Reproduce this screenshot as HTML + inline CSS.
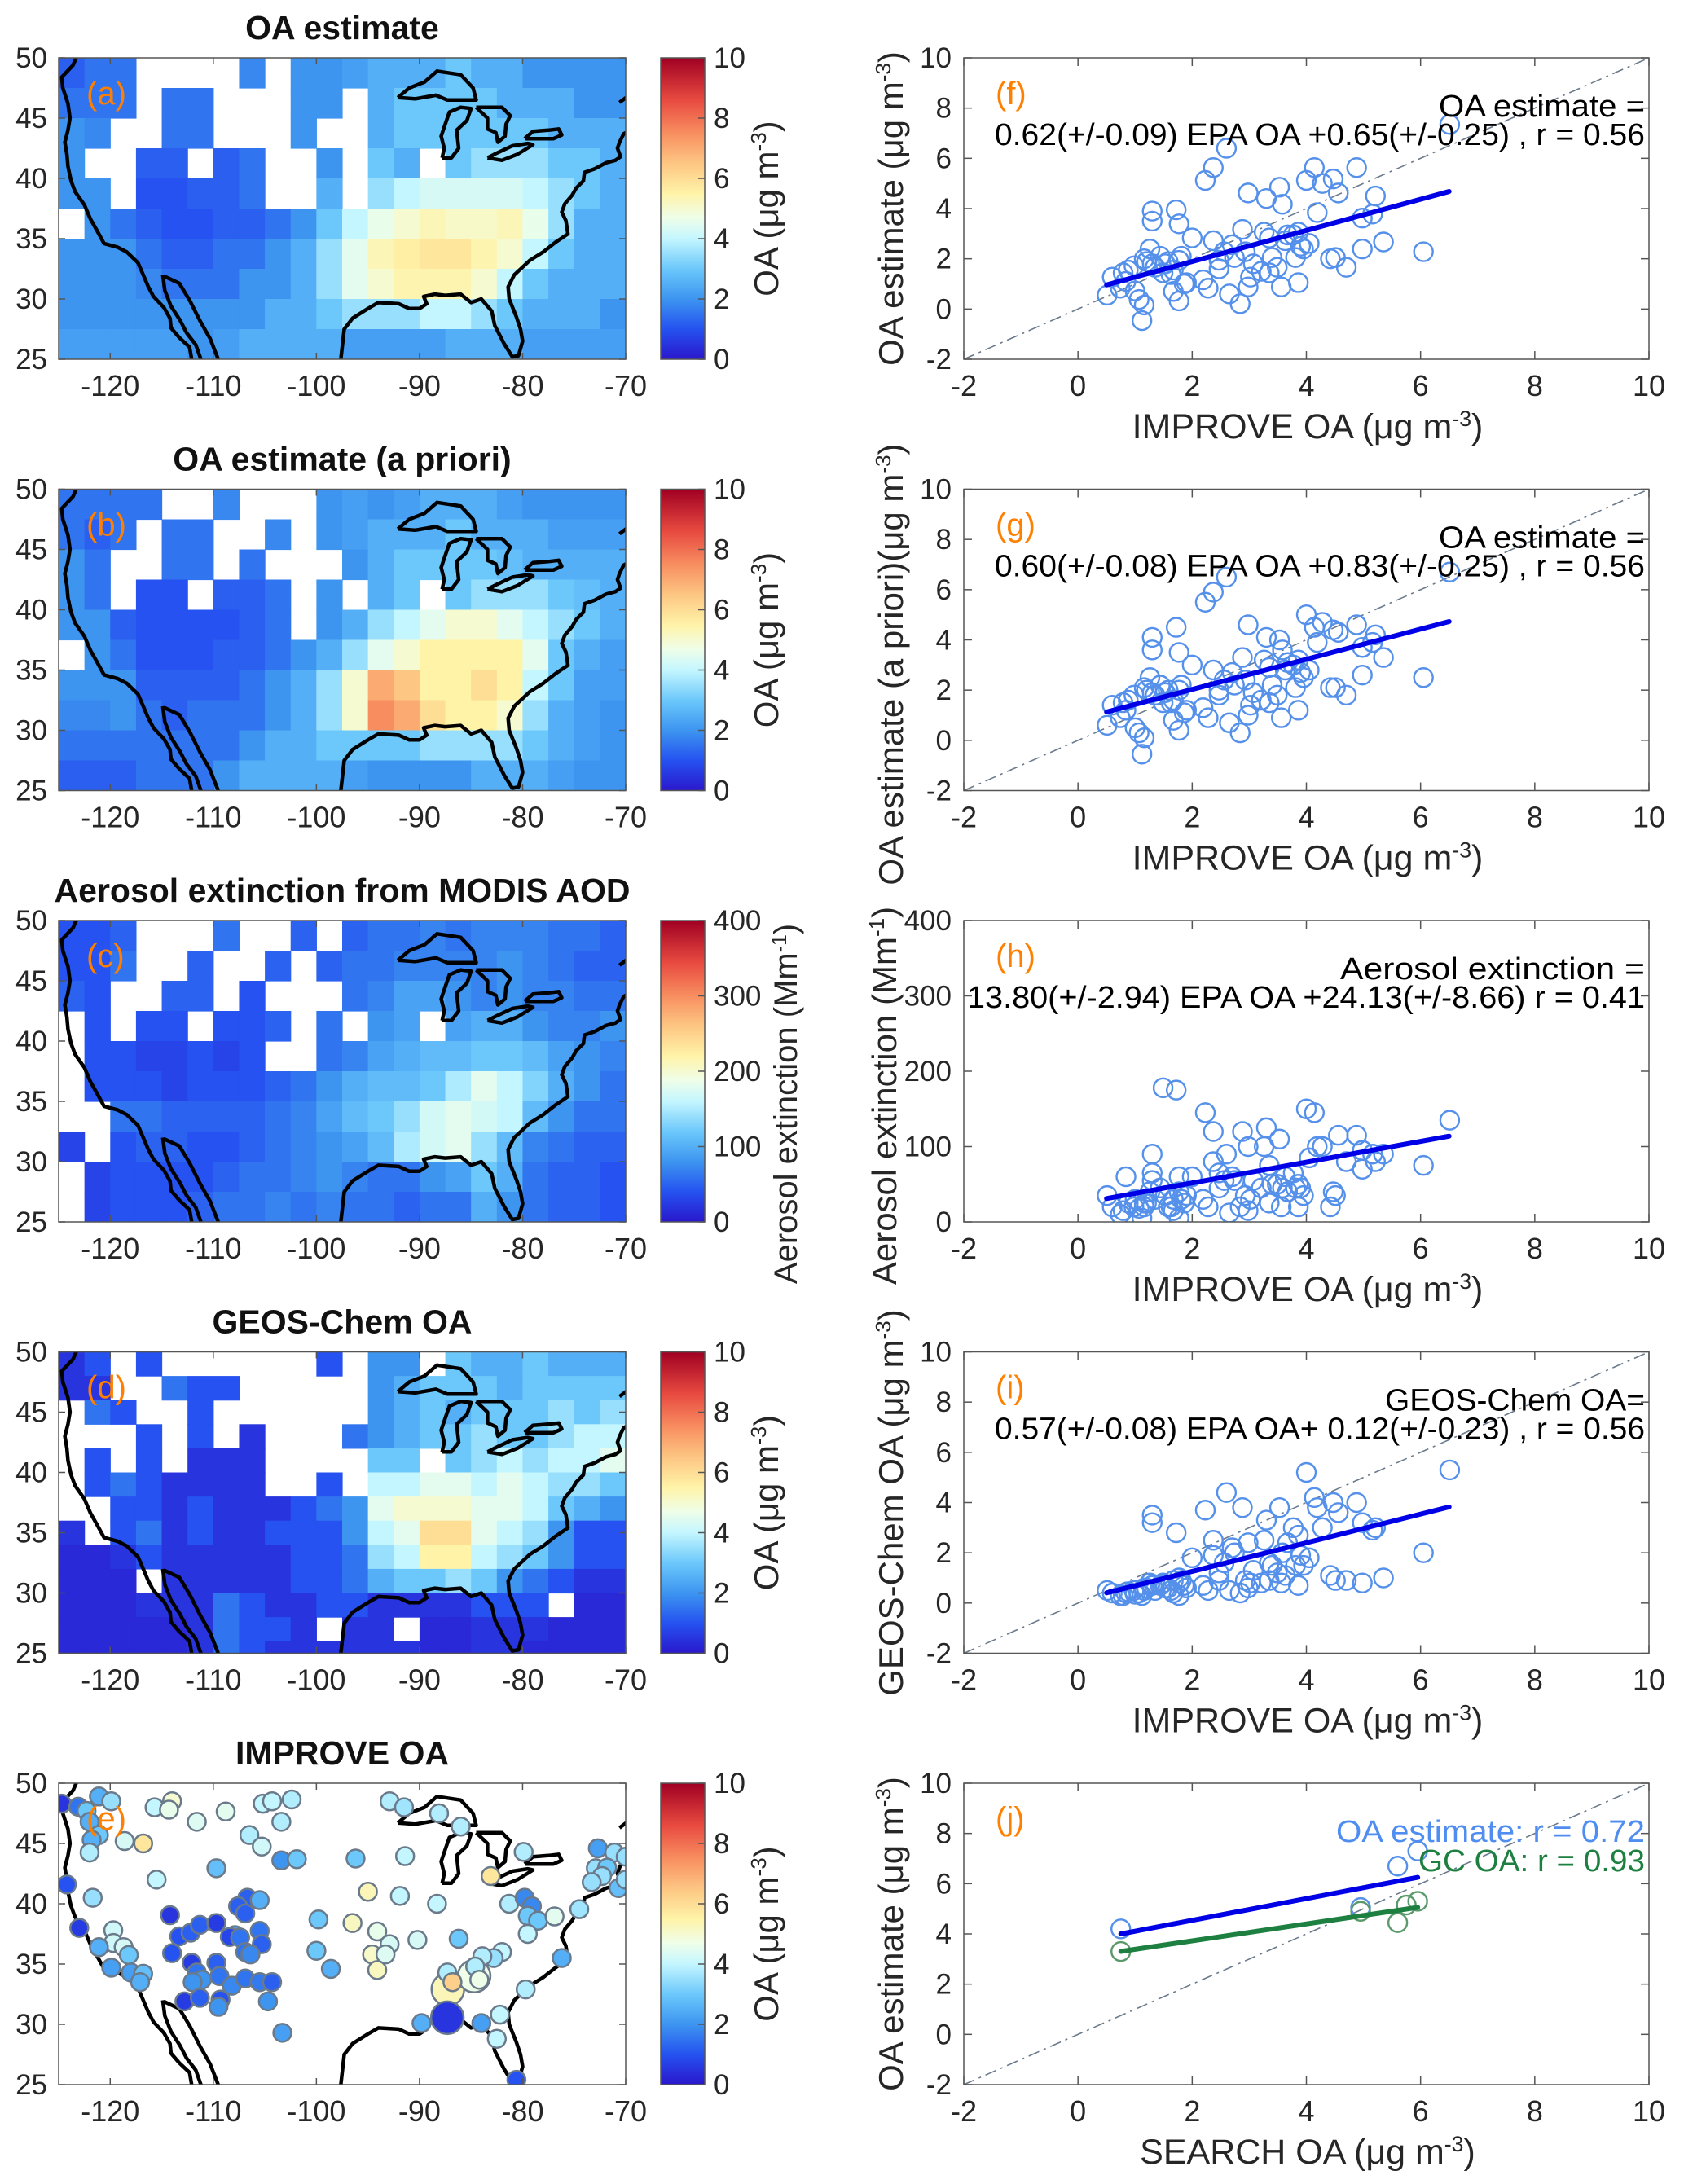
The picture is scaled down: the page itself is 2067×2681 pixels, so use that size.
<!DOCTYPE html>
<html><head><meta charset="utf-8"><title>OA maps and scatter</title>
<style>
html,body{margin:0;padding:0;background:#fff;}
svg{display:block;font-family:"Liberation Sans",Arial,sans-serif;}
</style></head>
<body>
<svg id="fig" xmlns="http://www.w3.org/2000/svg" width="2067" height="2681" viewBox="0 0 2067 2681">
<defs>
<linearGradient id="cmap" x1="0" y1="1" x2="0" y2="0">
<stop offset="0" stop-color="#2a18cc"/><stop offset="0.1" stop-color="#2552f0"/><stop offset="0.2" stop-color="#3d95f0"/>
<stop offset="0.3" stop-color="#6cc8fb"/><stop offset="0.4" stop-color="#c4f6ff"/><stop offset="0.47" stop-color="#effee8"/>
<stop offset="0.55" stop-color="#fff3a8"/><stop offset="0.65" stop-color="#fdc682"/><stop offset="0.75" stop-color="#f88e60"/>
<stop offset="0.86" stop-color="#e84a40"/><stop offset="1" stop-color="#a00022"/>
</linearGradient>
</defs>
</svg>
<script>
// ---------------- DATA ----------------
const mapTitles = ["OA estimate","OA estimate (a priori)","Aerosol extinction from MODIS AOD","GEOS-Chem OA","IMPROVE OA"];
const mapLetters = ["(a)","(b)","(c)","(d)","(e)"];
const lonTicks = [-120,-110,-100,-90,-80,-70];
const latTicks = [25,30,35,40,45,50];
const cbTicksOA = [0,2,4,6,8,10];
const cbTicksExt = [0,100,200,300,400];
const gridA = [
[1.2,1.5,1.5,-1,-1,-1,-1,1.8,-1,2,2,2.2,2.5,2.5,2.5,3,2.5,2.5,2,2,2,2],
[1.5,1.5,1.5,-1,1.5,1.5,-1,-1,-1,2,2,-1,2.5,3,3,3,3,2.5,2.5,2.5,2,2],
[2,1.8,-1,-1,1.5,1.5,-1,-1,-1,2,-1,-1,2.5,3,3,3,3,3,3,2.5,2.5,2.5],
[2,-1,-1,1.2,1.2,-1,1.2,1.5,-1,-1,2,-1,3,2.5,-1,3,3.5,3.5,3.5,3,3,2.5],
[2,2,-1,1,1,1.2,1.2,1.5,-1,-1,2.5,-1,3.5,4,4.3,4.3,4.3,4.3,4,3.5,3,2.5],
[-1,2,1.5,1.2,1,1,1.2,1.2,1.5,2,3,4,4.6,5,5.3,5.1,5.1,5.3,4.6,3.5,2.5,2.5],
[2,2,2,1.5,1.2,1.2,1.5,1.5,2,2.5,3.5,4.5,5.3,5.6,5.8,5.8,5.4,5,4,3,2.5,2.5],
[2,2,2,1.8,1.5,1.5,1.5,2,2,2.5,3.5,4.5,5,5.4,5.4,5.4,5,4,3,2.5,2.5,2.5],
[2,2,2,2,2,2,2,2,2.5,2.5,3,3.5,3.5,3.5,4,4,3.5,3,2.5,2.5,2.5,2],
[2.2,2.2,2.2,2.2,2.2,2,2.2,2.5,2.5,2.5,2.5,2.2,2.2,2.2,2.2,2.5,2.5,2.5,2.2,2.2,2.2,2.2]];
const gridB = [
[1.5,1.5,1.5,1.5,-1,-1,1.8,-1,-1,-1,2,2.2,2,2.2,2.5,2.5,2.5,2.2,2,2,2,2],
[1.5,1.2,1.5,-1,1.5,1.5,-1,-1,1.8,-1,2,2.2,2.5,2.5,2.5,3,2.5,2.5,2.5,2.2,2.2,2.2],
[2,1.5,-1,-1,1.5,1.5,-1,1.5,-1,-1,-1,2,2.5,3,3,3,3,2.8,2.5,2.5,2.5,2.5],
[2,1.5,-1,1,1,-1,1.2,1.2,1.5,-1,2,-1,2.5,3,-1,3,3.5,3.5,3.5,3,2.8,2.5],
[2,2,1.2,1,1,1,1,1.2,1.5,-1,2,2.5,3.5,4,4.5,5,5,4.5,4,3.5,3,2.5],
[-1,2,1.5,1,1,1,1.2,1.2,1.5,2,2.5,3.5,4.5,5,5.5,5.5,5.5,5.5,4.5,3,2.5,2.2],
[2,2,2,1.2,1.2,1.2,1.2,1.5,2,2.5,3.5,5,7,6.5,5.5,5.5,6,5.5,4,3,2.2,2.2],
[1.8,1.8,2,1.5,1.2,1.5,1.5,1.5,2,2.5,3.5,5,7.5,7,6,5.5,5.5,5,3.5,2.5,2.2,2],
[1.5,1.5,1.5,1.5,1.5,1.5,1.5,2,2.5,2.5,3,3,3,3,3.5,3.5,3.5,3.5,3,2.5,2.2,2],
[1.2,1.2,1.2,1.5,1.5,1.5,2,2.5,2.5,2.5,2.5,2.2,2,2,2,2,2.5,2.5,2.5,2.2,2,2]];
const gridC = [
[40,40,50,-1,-1,-1,60,-1,-1,50,-1,50,60,60,70,60,70,70,70,60,60,50],
[40,40,60,-1,-1,50,-1,-1,50,-1,50,60,60,70,70,70,70,80,70,60,50,50],
[50,40,-1,-1,50,50,-1,40,-1,-1,-1,60,70,90,90,80,70,80,70,70,60,60],
[-1,40,-1,40,40,-1,40,40,50,-1,60,-1,80,90,-1,90,100,100,80,70,70,80],
[-1,40,40,30,30,40,30,40,-1,-1,60,70,90,100,110,110,120,120,110,90,80,70],
[-1,40,40,40,30,40,40,40,50,60,80,100,110,110,120,150,180,160,130,100,80,60],
[-1,-1,60,60,50,50,50,50,60,70,90,110,120,140,170,180,170,160,110,80,60,60],
[30,-1,40,50,50,40,40,50,60,70,80,90,110,150,170,180,140,110,70,60,50,50],
[-1,30,40,40,40,40,50,60,60,70,80,70,60,60,80,90,120,100,60,50,50,40],
[-1,30,40,40,40,50,60,60,70,60,70,60,60,50,60,60,100,80,60,50,50,40]];
const gridD = [
[0.5,1,-1,1,-1,-1,-1,-1,-1,-1,1,-1,2,2,-1,3,2.5,2.5,3,2.5,2.5,2.5],
[0.5,0.5,-1,-1,1.5,1,1,-1,-1,-1,-1,-1,2,2.5,3,3,3,2.5,3,3,3,3],
[-1,1.5,1,-1,-1,1,-1,-1,-1,-1,-1,-1,2,2.5,3,2.5,3,3,3,3.5,3,3.5],
[-1,-1,-1,1,-1,1,-1,0.5,-1,-1,-1,1.5,2,2.5,3,3,3.5,3,3,3.5,4,4],
[-1,1,-1,1,-1,0.5,0.5,0.5,-1,-1,-1,-1,3,3,-1,3,3.5,4,3.5,4,4,4.5],
[-1,1,1.5,1,0.5,0.5,0.5,0.5,-1,-1,1,-1,4,4,4.5,4.5,4,4.5,4,3.5,3.5,3],
[-1,-1,1,1,0.5,1,0.5,0.5,0.5,1,1.5,2,4.5,5,5,5,4.5,4.5,4,3,2.5,2],
[0.5,-1,1,1.5,0.5,1,0.5,0.5,1,1,1,2,4,4.5,6,6,4.5,4,3.5,2,1,1],
[0.3,0.3,0.5,1,0.5,0.5,0.5,0.5,0.5,1,1,1.5,3.5,4,5.5,5.5,4,3.5,3,2,1,1],
[0.3,0.3,0.3,-1,0.5,0.5,0.5,0.5,0.5,1,1,1.5,2.5,3,3,3.5,3,2,1.5,1,0.5,0.5],
[0.3,0.3,0.3,0.5,0.5,0.5,1.5,1,0.5,0.5,1,1,0.5,0.5,0.5,0.5,1,1,1,-1,0.3,0.3],
[0.3,0.3,0.3,0.3,0.3,0.5,1.5,1,1,0.5,-1,0.5,0.5,-1,0.3,0.3,0.5,0.5,0.5,0.3,0.3,0.3],
[0.3,0.3,0.3,0.3,0.3,0.5,1.5,1,0.5,0.5,0.5,0.5,0.5,0.5,0.3,0.3,0.5,0.5,0.3,0.3,0.3,0.3]];
const siteLon = [-124.7,-123.1,-121.1,-119.9,-122.3,-122,-121.1,-121.8,-122,-118.6,-116.8,-115.7,-114,-114.3,-111.6,-108.8,-105.2,-104.3,-102.4,-103.4,-106.5,-105.3,-103.4,-101.9,-109.7,-115.5,-124.2,-121.7,-106.7,-105.5,-107.6,-106.9,-114.2,-123,-119.7,-119.7,-118.7,-118.2,-121.1,-119.9,-118,-116.8,-117.1,-113.3,-112.2,-111.3,-109.7,-107.9,-108.4,-107.4,-105.5,-105.3,-106.9,-106.4,-114,-112.1,-109.7,-111.6,-111.1,-112,-109.4,-108.2,-106.9,-105.5,-104.3,-112.8,-111.3,-109.3,-109.5,-104.7,-103.3,-99.8,-100,-98.6,-96.2,-92.9,-91.5,-91.4,-95,-96.5,-94.1,-91.9,-92.9,-94.6,-93.3,-94.1,-90.2,-88.3,-86.2,-88.1,-86,-83.1,-79.9,-81.3,-79.8,-79.1,-79.5,-78.5,-79.5,-76.9,-74.5,-76.2,-79.7,-82,-82.8,-83.9,-84.6,-87.3,-87.25,-84.7,-87.3,-86.8,-84.2,-89.8,-84,-82.2,-82.5,-80.6,-72.7,-71.1,-70,-72.9,-71.8,-72.3,-73.3,-70.7,-70];
const siteLat = [48.3,48.05,48.9,48.5,47.7,46.8,45.7,45.3,44.25,45.2,45,48,48.5,47.8,46.8,47.65,48.3,48.5,48.65,46.8,45.7,44.75,43.6,43.7,42.95,42,41.6,40.5,40.5,40.3,39.8,39.2,39.05,38,37.8,36.75,36.4,35.75,36.4,34.7,34.3,34.2,33.5,37.3,37.6,38.25,38.4,37.4,37.25,37.2,37.75,36.65,36,35.8,35.9,35.1,35.1,34.3,33.7,33.5,34,33.2,33.8,33.5,33.5,31.9,32.2,32.05,31.45,31.9,29.3,38.7,36.1,34.6,43.75,48.5,48,43.95,41,38.4,37.7,40.65,36.65,35.8,35.8,34.5,37,40,37.1,47.5,46.4,42.3,44.3,40,40.5,39.8,39,38.6,37.5,38.95,39.55,35.5,32.9,36,35.5,35.65,34.8,34.3,32.9,34,30.55,33.5,33.7,30.1,30.1,30.8,28.8,25.4,44.6,44.25,43.9,42.95,43,42.3,41.8,41.3,42];
const siteOA = [0.5,1.5,2.5,3.5,3,2.5,3,2.5,3.8,4.3,5.8,4,5,4.6,4.4,4.5,4,4,3.8,3.8,3.8,4.2,2,3,2.8,4,1,3.5,1.2,2.5,1.2,1.2,0.5,0.6,4.2,4.2,4.3,3,2.5,2.2,2.2,2.8,2.5,1,1.2,1.2,0.6,2.2,0.8,1.5,1.5,1.2,1.5,1.8,1,0.6,1.2,1.5,2,2,1.5,1.8,1.5,1.6,1.2,0.6,1.2,1,2,2,2.2,3,3,2.5,3,3.8,3.6,4,5.3,5.2,4.6,4,4.3,5.1,4.4,5.2,4.3,4,3,3.8,3.8,5.8,3.8,3.8,1.8,1.8,3,3,4,4.5,3.6,2.5,3.8,4,3.5,3.8,3.8,3.8,5.3,4.7,0.5,6.3,4.7,2.5,2.2,4,4,1,2.2,3.5,3.5,3.5,3,3.5,3.5,2.8,3.5];
const bigLon = [-87.25,-84.7,-87.3];
const bigLat = [32.9,34,30.55];
const improveX = [0.51,0.6,0.79,0.88,0.74,1.0,1.07,1.16,1.12,1.2,1.26,1.3,1.3,1.35,1.44,1.53,1.63,1.67,1.72,1.77,1.77,1.81,1.9,2.0,2.19,2.23,2.28,2.37,2.37,2.47,2.56,2.6,2.65,2.74,2.84,2.88,2.93,2.98,2.98,3.07,3.21,3.3,3.35,3.35,3.4,3.53,3.58,3.56,3.63,3.77,3.81,3.86,3.9,4.0,4.05,4.14,4.19,4.28,4.42,4.47,4.51,4.56,4.7,4.88,4.98,4.98,5.16,5.21,5.35,6.05,6.51,0.84,0.98,1.16,1.3,1.49,1.58,1.67,1.77,1.86,2.47,2.7,3.02,3.26,3.49,3.67,3.86,3.95];
const estY = [0.55,1.27,1.44,1.55,0.83,0.72,0.38,0.16,-0.46,1.89,2.39,3.9,3.5,1.66,2.1,1.8,1.37,0.7,3.95,3.39,0.32,2.1,1.05,2.83,1.16,5.12,0.83,5.63,2.72,1.6,2.28,6.4,0.6,2.05,0.21,3.17,2.28,4.62,0.88,1.8,1.5,4.4,2.83,1.44,2.05,4.85,4.17,0.88,2.72,2.95,2.05,1.05,2.5,5.12,2.61,5.63,3.84,5.0,2.0,5.18,2.05,4.62,1.66,5.63,2.39,3.62,3.78,4.5,2.67,2.28,7.35,1.1,1.72,2.0,1.8,1.44,1.89,1.55,1.94,1.0,1.94,2.56,1.27,3.06,1.66,2.95,3.06,2.39];
const prioriY = [0.6,1.4,1.5,1.6,0.9,0.5,0.3,0.1,-0.55,2.0,2.5,4.1,3.6,1.8,2.2,1.9,1.5,0.8,4.5,3.5,0.4,2.2,1.2,3.0,1.3,5.5,0.9,5.9,2.8,1.8,2.4,6.5,0.7,2.2,0.3,3.3,2.4,4.6,1.0,1.9,1.6,4.1,2.9,1.5,2.2,4.0,3.6,0.9,2.8,3.0,2.1,1.2,2.7,5.0,2.8,4.5,3.9,4.7,2.1,4.4,2.1,4.3,1.8,4.6,2.6,3.7,3.9,4.2,3.3,2.5,6.7,1.2,1.8,2.1,1.9,1.5,2.0,1.6,2.0,1.1,2.0,2.7,1.4,3.2,1.8,3.1,3.2,2.5];
const extY = [35,20,15,25,10,30,18,20,5,25,40,90,65,30,45,35,20,15,175,60,5,30,35,60,30,145,20,120,80,45,55,90,12,55,20,120,35,100,15,55,45,125,75,25,50,110,45,20,60,65,45,20,45,150,85,145,100,100,20,40,35,115,80,115,70,95,90,80,90,75,135,60,20,25,55,178,20,30,40,25,65,60,30,100,50,40,50,35];
const gcY = [0.5,0.4,0.3,0.45,0.3,0.35,0.4,0.5,0.3,0.6,0.8,3.5,3.2,0.5,0.7,0.6,0.5,0.4,2.8,0.8,0.3,0.9,0.6,1.8,0.7,3.7,0.5,2.5,1.9,0.9,1.6,4.4,0.5,2.0,0.4,3.8,0.9,2.4,0.6,1.3,0.8,3.3,1.6,0.9,1.5,3.8,2.0,0.8,1.1,3.0,1.5,0.7,1.9,5.2,1.8,4.2,3.8,3.0,1.1,4.0,0.9,3.6,0.9,4.0,0.8,3.2,2.9,3.0,1.0,2.0,5.3,0.4,0.5,0.6,0.7,0.8,0.6,0.9,1.0,0.7,1.2,2.2,0.8,2.5,1.2,2.4,2.7,1.5];
const searchX = [0.75,4.95,5.6,5.95];
const searchEstY = [4.2,5.05,6.7,7.3];
const searchGcX = [0.75,4.95,5.6,5.75,5.95];
const searchGcY = [3.3,4.9,4.45,5.15,5.3];
const fitSlope = [0.62,0.60,13.80,0.57];
const fitIntercept = [0.65,0.83,24.13,0.12];
const fitRange = [0.5,6.5];
const jSlope = [0.433,0.337];
const jIntercept = [3.675,3.05];
const jRange = [0.75,5.95];
const sxTicks = [-2,0,2,4,6,8,10];
const syTicksOA = [-2,0,2,4,6,8,10];
const syTicksExt = [0,100,200,300,400];
const coastWest = [[-123.2,50.2],[-123.6,49.4],[-124.7,48.4],[-124.6,47.5],[-124.1,46.2],[-123.9,45],[-124.1,44],[-124.4,43],[-124.2,42],[-124.1,41],[-123.8,39.8],[-123.4,38.9],[-122.5,37.8],[-121.9,36.6],[-121.3,35.7],[-120.6,34.6],[-119.3,34.3],[-118.4,33.9],[-117.3,33],[-116.8,32],[-116.3,31],[-115.8,30.2],[-114.8,29.3],[-114.2,28.4],[-114.1,27.6],[-113.3,26.8],[-112.3,26],[-112,24.5]];
const coastBaja = [[-114.9,32],[-114.7,30.7],[-114.1,29.4],[-113.2,28.2],[-112.6,27.2],[-111.7,26.2],[-111,24.5]];
const coastMex = [[-114.8,31.9],[-113.3,31.3],[-112.3,29.9],[-111.3,28.2],[-110.3,26.7],[-109.3,24.5]];
const coastGulf = [[-97.7,24.5],[-97.5,26],[-97.3,27.5],[-96.5,28.4],[-95,29.2],[-94,29.7],[-92,29.6],[-91,29.2],[-90,29.2],[-89.3,29.6],[-89.6,30.2],[-88.5,30.4],[-87.5,30.3],[-86,30.4],[-85,29.7],[-84,30],[-83,29],[-82.7,27.8],[-81.8,26.3],[-81,25.2],[-80.4,25.3],[-80,26.5],[-80.2,27.5],[-80.6,28.5],[-81.3,30],[-81.4,31],[-80.8,32],[-79.3,33.2],[-78,33.9],[-76.8,34.7],[-75.6,35.4],[-75.8,36.5],[-76.2,37.2],[-75.9,37.9],[-75.2,38.6],[-74.8,39.2],[-74.1,39.8],[-74,40.5],[-73,40.8],[-71.9,41.3],[-71,41.5],[-70.5,41.8],[-70.8,42.5],[-70.6,43],[-70.2,43.7],[-69.5,44]];
const coastNS = [[-70.6,46.3],[-69.5,47]];
const lakeSuperior = [[-92.1,46.7],[-90.4,46.6],[-88.4,46.9],[-87.3,46.5],[-85,46.5],[-84.5,46.5],[-84.8,47.5],[-86,48.6],[-88.3,48.9],[-89.5,48],[-91,47.5],[-92.1,46.7]];
const lakeMichigan = [[-87.8,41.7],[-87.6,42.5],[-87.9,43.5],[-87.5,44.5],[-87.1,45.5],[-86,45.9],[-85,45.8],[-85.4,44.8],[-86.4,44],[-86.2,42.5],[-86.9,41.7],[-87.8,41.7]];
const lakeHuron = [[-84.5,45.9],[-83.5,45.9],[-82,45.9],[-81.2,45.2],[-81.6,44.5],[-81.7,43.5],[-82.4,43],[-82.6,43.8],[-83.4,44.1],[-83.4,45],[-84.5,45.9]];
const lakeErie = [[-83.4,41.7],[-82,41.5],[-80.5,42],[-79,42.8],[-79.5,42.9],[-81,42.7],[-82.5,42.1],[-83.4,41.7]];
const lakeOntario = [[-79.8,43.3],[-78.5,43.3],[-77,43.3],[-76.2,43.6],[-76.5,44.1],[-77.5,44],[-79,43.9],[-79.8,43.3]];

// ---------------- DRAWING ----------------
const NS="http://www.w3.org/2000/svg";
const svg=document.getElementById('fig');
function el(tag,attrs,parent){const e=document.createElementNS(NS,tag);for(const k in attrs)e.setAttribute(k,attrs[k]);(parent||svg).appendChild(e);return e;}
const ROW0=71, ROWH=529.5, PH=370;
const MX0=72, MX1=768, CBX=811, CBW=54;
const SX0=1183, SX1=2024;
const TXT="#262626";
const stops=[[0,[42,24,204]],[0.1,[37,82,240]],[0.2,[61,149,240]],[0.3,[108,200,251]],[0.4,[196,246,255]],[0.47,[239,254,232]],[0.55,[255,243,168]],[0.65,[253,198,130]],[0.75,[248,142,96]],[0.86,[232,74,64]],[1,[160,0,34]]];
function cmap(t){t=Math.max(0,Math.min(1,t));for(let i=1;i<stops.length;i++){if(t<=stops[i][0]){const a=stops[i-1],b=stops[i];const f=(t-a[0])/(b[0]-a[0]);const c=a[1].map((v,j)=>Math.round(v+(b[1][j]-v)*f));return `rgb(${c[0]},${c[1]},${c[2]})`;}}return 'rgb(160,0,34)';}
function lonX(lon){return MX0+(lon+125)/55*(MX1-MX0);}
function latY(lat,top){return top+(50-lat)/25*PH;}
function sx(v){return SX0+(v+2)/12*(SX1-SX0);}
function text(str,x,y,size,opts,parent){const t=el('text',Object.assign({x:x,y:y,'font-size':size,fill:TXT},opts||{}),parent);t.textContent=str;return t;}
function unitLabel(parent,prefix,x,y,size,rotate,unitsuffix){
  const t=el('text',{x:x,y:y,'font-size':size,fill:TXT,'text-anchor':'middle'},parent);
  if(rotate)t.setAttribute('transform',`rotate(-90 ${x} ${y})`);
  const a=el('tspan',{},t);a.textContent=prefix;
  const b=el('tspan',{'baseline-shift':'super','font-size':size*0.62},t);b.textContent=unitsuffix;
  const c=el('tspan',{},t);c.textContent=')';
  return t;
}
function spanText(str,x0,x1,y,size,color,parent){
  return text(str,x0,y,size,{fill:color,textLength:x1-x0,lengthAdjust:'spacingAndGlyphs'},parent);
}
function drawCoast(g,top){
  const lines=[coastWest,coastBaja,coastMex,coastGulf,coastNS,lakeSuperior,lakeMichigan,lakeHuron,lakeErie,lakeOntario];
  lines.forEach(L=>{el('polyline',{points:L.map(p=>lonX(p[0]).toFixed(1)+','+latY(p[1],top).toFixed(1)).join(' '),fill:'none',stroke:'#000','stroke-width':4.5,'stroke-linejoin':'round'},g);});
}

for(let r=0;r<5;r++){
  const top=ROW0+r*ROWH;
  const g=el('g',{});
  
  
  const clip=el('clipPath',{id:'clip'+r},svg.querySelector('defs'));
  el('rect',{x:MX0,y:top,width:MX1-MX0,height:PH},clip);
  const title=text(mapTitles[r],420,top-23,41,{'font-weight':'bold','text-anchor':'middle',fill:'#111'},g);
  
  
  const inner=el('g',{'clip-path':`url(#clip${r})`},g);
  if(r<3){
    const grid=[gridA,gridB,gridC][r];
    const scale=r==2?400:10;
    grid.forEach((row,i)=>row.forEach((v,j)=>{
      if(v<0)return;
      const x0=lonX(-125+j*2.5),x1=lonX(-125+(j+1)*2.5),y0=latY(50-i*2.5,top),y1=latY(50-(i+1)*2.5,top);
      const c=el('rect',{x:x0,y:y0,width:x1-x0+0.6,height:y1-y0+0.6,fill:cmap(v/scale)},inner);
      
      
    }));
  } else if(r==3){
    gridD.forEach((row,i)=>row.forEach((v,j)=>{
      if(v<0)return;
      const x0=lonX(-125+j*2.5),x1=lonX(-125+(j+1)*2.5),y0=latY(50-i*2,top),y1=latY(50-(i+1)*2,top);
      const c=el('rect',{x:x0,y:y0,width:x1-x0+0.6,height:y1-y0+0.6,fill:cmap(v/10)},inner);
      
      
    }));
  }
  drawCoast(inner,top);
  if(r==4){
    const isBig=i=>bigLon.some((lo,k)=>Math.abs(lo-siteLon[i])<0.01&&Math.abs(bigLat[k]-siteLat[i])<0.01);
    [true,false].forEach(pass=>{
      siteLon.forEach((lon,i)=>{
        const big=isBig(i);
        if(big!==pass)return;
        const c=el('circle',{cx:lonX(lon),cy:latY(siteLat[i],top),r:big?20:11,fill:cmap(siteOA[i]/10),stroke:'#6a7a8a','stroke-width':2.5},inner);
        
        
      });
    });
  }
  el('rect',{x:MX0,y:top,width:MX1-MX0,height:PH,fill:'none',stroke:'#555','stroke-width':1.5},g);
  lonTicks.forEach(t=>{const x=lonX(t);el('line',{x1:x,y1:top+PH,x2:x,y2:top+PH-8,stroke:'#555','stroke-width':1.5},g);el('line',{x1:x,y1:top,x2:x,y2:top+8,stroke:'#555','stroke-width':1.5},g);
    const l=text(String(t),x,top+PH+45,36,{'text-anchor':'middle'},g);});
  latTicks.forEach(t=>{const y=latY(t,top);el('line',{x1:MX0,y1:y,x2:MX0+8,y2:y,stroke:'#555','stroke-width':1.5},g);el('line',{x1:MX1,y1:y,x2:MX1-8,y2:y,stroke:'#555','stroke-width':1.5},g);
    const l=text(String(t),58,y+12,35,{'text-anchor':'end'},g);});
  const lab=text(mapLetters[r],106,top+57,40,{fill:'#ff8000'},g);
  
  
  const cb=el('rect',{x:CBX,y:top,width:CBW,height:PH,fill:'url(#cmap)',stroke:'#555','stroke-width':1.5},g);
  
  
  const ticks=r==2?cbTicksExt:cbTicksOA;const mx=r==2?400:10;
  ticks.forEach(t=>{const y=top+PH-t/mx*PH;el('line',{x1:CBX+CBW-8,y1:y,x2:CBX+CBW,y2:y,stroke:'#555','stroke-width':1.5},g);
    const l=text(String(t),876,y+12,35,{},g);});
  let cl;
  if(r==2){cl=unitLabel(g,'Aerosol extinction (Mm',978,top+PH/2+40,40,true,'-1');}
  else{cl=unitLabel(g,'OA (μg m',955,top+PH/2,42,true,'-3');}
  
  
}

const scatterLetters=["(f)","(g)","(h)","(i)","(j)"];
const scatterYLabels=["OA estimate (μg m","OA estimate (a priori)(μg m","Aerosol extinction (Mm","GEOS-Chem OA (μg m","OA estimate (μg m"];
const scatterYSeries=[estY,prioriY,extY,gcY];
const ann1=["OA estimate =","OA estimate =","Aerosol extinction =","GEOS-Chem OA="];
const ann1x=[1766,1766,1645,1700];
const ann2=["0.62(+/-0.09) EPA OA +0.65(+/-0.25) , r = 0.56","0.60(+/-0.08) EPA OA +0.83(+/-0.25) , r = 0.56","13.80(+/-2.94) EPA OA +24.13(+/-8.66)  r = 0.41","0.57(+/-0.08) EPA OA+ 0.12(+/-0.23) , r = 0.56"];
const ann2x=[1221,1221,1187,1221];
for(let r=0;r<5;r++){
  const top=ROW0+r*ROWH;
  const ext=r==2;
  const ymin=ext?0:-2,ymax=ext?400:10;
  const sy=v=>top+PH-(v-ymin)/(ymax-ymin)*PH;
  const g=el('g',{});
  
  
  const clip=el('clipPath',{id:'sclip'+r},svg.querySelector('defs'));
  el('rect',{x:SX0,y:top,width:SX1-SX0,height:PH},clip);
  const inner=el('g',{'clip-path':`url(#sclip${r})`},g);
  if(!ext){const d=el('line',{x1:sx(-2),y1:sy(-2),x2:sx(10),y2:sy(10),stroke:'#6a7a8c','stroke-width':1.6,'stroke-dasharray':'14 6 3 6'},inner);
    }
  if(r<4){
    const ys=scatterYSeries[r];const n=Math.min(ys.length,improveX.length);
    for(let i=0;i<n;i++){const c=el('circle',{cx:sx(improveX[i]),cy:sy(ys[i]),r:11.5,fill:'none',stroke:'#5590ea','stroke-width':2.4},inner);
      }
    const fl=el('line',{x1:sx(fitRange[0]),y1:sy(fitSlope[r]*fitRange[0]+fitIntercept[r]),x2:sx(fitRange[1]),y2:sy(fitSlope[r]*fitRange[1]+fitIntercept[r]),stroke:'#0000e6','stroke-width':6,'stroke-linecap':'round'},inner);
    
  } else {
    searchX.forEach((x,i)=>{const c=el('circle',{cx:sx(x),cy:sy(searchEstY[i]),r:11.5,fill:'none',stroke:'#5590ea','stroke-width':2.4},inner);
      });
    searchGcX.forEach((x,i)=>{const c=el('circle',{cx:sx(x),cy:sy(searchGcY[i]),r:11.5,fill:'none',stroke:'#5a9a6a','stroke-width':2.4},inner);
      });
    const cols=['#0000e6','#1e8040'];
    [0,1].forEach(k=>{const fl=el('line',{x1:sx(jRange[0]),y1:sy(jSlope[k]*jRange[0]+jIntercept[k]),x2:sx(jRange[1]),y2:sy(jSlope[k]*jRange[1]+jIntercept[k]),stroke:cols[k],'stroke-width':6,'stroke-linecap':'round'},inner);
      });
  }
  el('rect',{x:SX0,y:top,width:SX1-SX0,height:PH,fill:'none',stroke:'#555','stroke-width':1.5},g);
  sxTicks.forEach(t=>{const x=sx(t);el('line',{x1:x,y1:top+PH,x2:x,y2:top+PH-10,stroke:'#555','stroke-width':1.5},g);el('line',{x1:x,y1:top,x2:x,y2:top+10,stroke:'#555','stroke-width':1.5},g);
    const l=text(String(t),x,top+PH+45,36,{'text-anchor':'middle'},g);});
  (ext?syTicksExt:syTicksOA).forEach(t=>{const y=sy(t);el('line',{x1:SX0,y1:y,x2:SX0+10,y2:y,stroke:'#555','stroke-width':1.5},g);el('line',{x1:SX1,y1:y,x2:SX1-10,y2:y,stroke:'#555','stroke-width':1.5},g);
    const l=text(String(t),1168,y+12,35,{'text-anchor':'end'},g);});
  const xl=unitLabel(g,r==4?'SEARCH OA (μg m':'IMPROVE OA (μg m',1605,top+PH+97,43,false,'-3');
  
  const yl=unitLabel(g,scatterYLabels[r],ext?1100:1108,top+PH/2+(r==1?30:(ext?30:0)),42,true,ext?'-1':'-3');
  
  const lab=text(scatterLetters[r],1222,top+57,40,{fill:'#ff8000'},g);
  
  if(r<4){
    const a1=spanText(ann1[r],ann1x[r],2019,top+72,38,'#000',g);
    
    const a2=spanText(ann2[r],ann2x[r],2019,top+107,38,'#000',g);
    
  } else {
    const a1=spanText('OA estimate:  r = 0.72',1640,2019,top+72,38,'#4f8ef0',g);
    
    const a2=spanText('GC OA: r = 0.93',1741,2019,top+108,38,'#1e8040',g);
    
  }
}
</script>
</body></html>
